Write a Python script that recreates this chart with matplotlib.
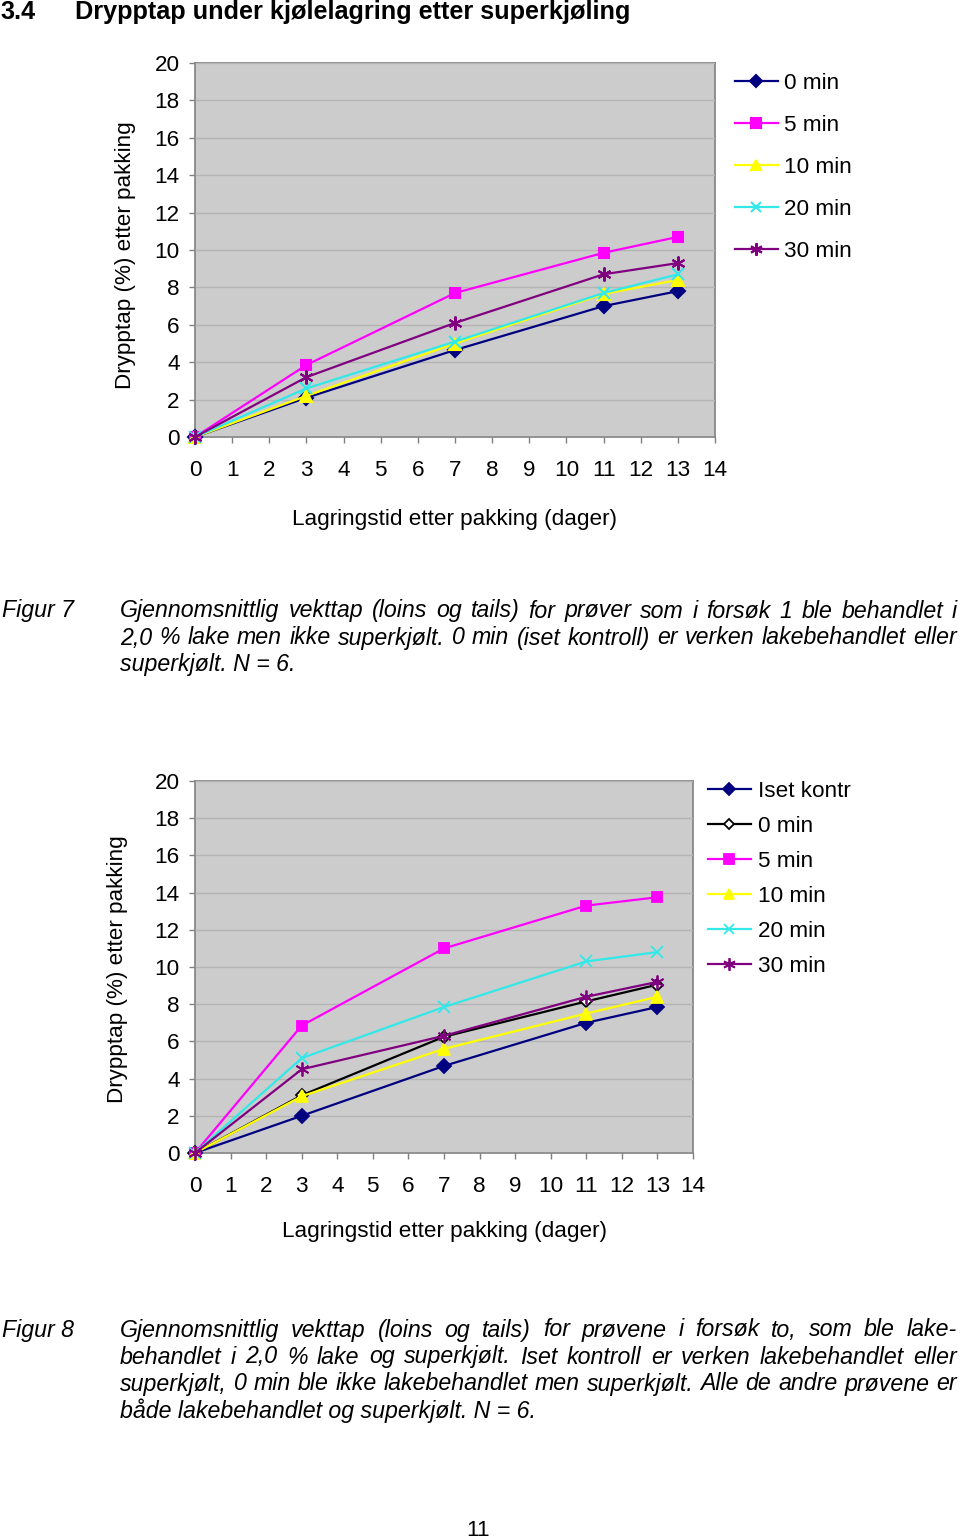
import matplotlib
matplotlib.use("Agg")
import matplotlib.pyplot as plt

plt.rcParams['font.family'] = ['Liberation Sans', 'DejaVu Sans']

W, H = 960, 1539

# ---------------- data ----------------
days = [0, 3, 7, 11, 13]
x_ticks = list(range(0, 15))
y_ticks = list(range(0, 21, 2))

fig7_labels = ["0 min", "5 min", "10 min", "20 min", "30 min"]
fig7_0min = [0, 2.1, 4.65, 7.0, 7.8]
fig7_5min = [0, 3.85, 7.7, 9.85, 10.7]
fig7_10min = [0, 2.2, 5.0, 7.65, 8.4]
fig7_20min = [0, 2.6, 5.1, 7.7, 8.7]
fig7_30min = [0, 3.2, 6.1, 8.7, 9.3]

fig8_labels = ["Iset kontr", "0 min", "5 min", "10 min", "20 min", "30 min"]
fig8_iset = [0, 2.0, 4.68, 7.0, 7.85]
fig8_0min = [0, 3.1, 6.25, 8.15, 9.05]
fig8_5min = [0, 6.85, 11.0, 13.3, 13.75]
fig8_10min = [0, 3.05, 5.6, 7.5, 8.4]
fig8_20min = [0, 5.1, 7.85, 10.3, 10.8]
fig8_30min = [0, 4.5, 6.3, 8.4, 9.2]

title_num = "3.4"
title_text = "Drypptap under kjølelagring etter superkjøling"
ylabel = "Drypptap (%) etter pakking"
xlabel = "Lagringstid etter pakking (dager)"

cap7_label = "Figur 7"
cap7_lines = [
    "Gjennomsnittlig vekttap (loins og tails) for prøver som i forsøk 1 ble behandlet i",
    "2,0 % lake men ikke superkjølt. 0 min (iset kontroll) er verken lakebehandlet eller",
    "superkjølt. N = 6.",
]
cap8_label = "Figur 8"
cap8_lines = [
    "Gjennomsnittlig vekttap (loins og tails) for prøvene i forsøk to, som ble lake-",
    "behandlet i 2,0 % lake og superkjølt. Iset kontroll er verken lakebehandlet eller",
    "superkjølt, 0 min ble ikke lakebehandlet men superkjølt. Alle de andre prøvene er",
    "både lakebehandlet og superkjølt. N = 6.",
]
page_no = "11"

# ---------------- styles ----------------
NAVY = '#000080'
MAG = '#FF00FF'
YEL = '#FFFF00'
CYAN = '#33E8E8'
PURP = '#800080'
ASTER = (6, 2, 0)

FS = 16.2

fig = plt.figure(figsize=(W / 100, H / 100), dpi=100)


def fx(x):
    return x / W


def fy(y):
    return 1 - y / H


def px_axes(l, t, r, b):
    return fig.add_axes([l / W, 1 - b / H, (r - l) / W, (b - t) / H])


def style_axes(ax):
    ax.set_facecolor('#CCCCCC')
    ax.set_xlim(0, 14)
    ax.set_ylim(0, 20)
    ax.set_xticks(x_ticks)
    ax.set_yticks(y_ticks)
    ax.set_axisbelow(True)
    ax.yaxis.grid(True, color='#B4B4B4', lw=1.0)
    for s in ax.spines.values():
        s.set_color('#808080')
        s.set_linewidth(1.2)
        s.set_zorder(0.5)
    ax.tick_params(axis='both', direction='out', length=4, width=1, color='#808080',
                   labelsize=FS)
    ax.tick_params(axis='x', pad=12.5)
    ax.tick_params(axis='y', pad=7)


# ---------------- chart 1 ----------------
ax1 = px_axes(195, 63, 715, 437)
style_axes(ax1)
lw = 1.6
series7 = [
    (fig7_0min, NAVY, 'D', 7, NAVY),
    (fig7_5min, MAG, 's', 7.5, MAG),
    (fig7_10min, YEL, '^', 8, YEL),
    (fig7_20min, CYAN, 'x', 8, CYAN),
    (fig7_30min, PURP, ASTER, 10, PURP),
]
for (vals, col, mk, ms, fc), lab in zip(series7, fig7_labels):
    ax1.plot(days, vals, color=col, lw=lw, marker=mk, ms=ms, mfc=fc, mec=col,
             mew=1.5, label=lab, clip_on=False, zorder=3)
ax1.legend(loc='upper left', bbox_to_anchor=(fx(735), fy(73)), bbox_transform=fig.transFigure,
           frameon=False, fontsize=FS, handlelength=1.9, handletextpad=0.3,
           labelspacing=0.93, borderpad=0, borderaxespad=0, markerscale=0.9)

fig.text(fx(125), fy(255), ylabel, rotation=90, ha='center', va='center', fontsize=FS)
fig.text(fx(455), fy(519), xlabel, ha='center', va='center', fontsize=FS)

# ---------------- chart 2 ----------------
ax2 = px_axes(195, 781, 693, 1153)
style_axes(ax2)
series8 = [
    (fig8_iset, NAVY, 'D', 7, NAVY),
    (fig8_0min, 'black', 'D', 6, 'white'),
    (fig8_5min, MAG, 's', 7.5, MAG),
    (fig8_10min, YEL, '^', 8, YEL),
    (fig8_20min, CYAN, 'x', 8, CYAN),
    (fig8_30min, PURP, ASTER, 10, PURP),
]
for (vals, col, mk, ms, fc), lab in zip(series8, fig8_labels):
    ax2.plot(days, vals, color=col, lw=lw, marker=mk, ms=ms, mfc=fc, mec=col,
             mew=1.3, label=lab, clip_on=False, zorder=3)
ax2.legend(loc='upper left', bbox_to_anchor=(fx(708), fy(781)), bbox_transform=fig.transFigure,
           frameon=False, fontsize=FS, handlelength=1.9, handletextpad=0.3,
           labelspacing=0.62, borderpad=0, borderaxespad=0, markerscale=0.9)

fig.text(fx(118), fy(969), ylabel, rotation=90, ha='center', va='center', fontsize=FS)
fig.text(fx(444), fy(1231), xlabel, ha='center', va='center', fontsize=FS)

# ---------------- titles / captions ----------------
TFS = 18.2
fig.text(fx(0), fy(12), title_num, ha='left', va='center', fontsize=TFS, fontweight='bold')
fig.text(fx(75), fy(12), title_text, ha='left', va='center', fontsize=TFS, fontweight='bold')

renderer = fig.canvas.get_renderer()
CFS = 16.7


def justified(line, x0, x1, y, justify=True):
    words = line.split(' ')
    if not justify:
        fig.text(fx(x0), fy(y), line, ha='left', va='center', fontsize=CFS, style='italic')
        return
    texts = [fig.text(0, 0, w, ha='left', va='center', fontsize=CFS, style='italic') for w in words]
    widths = [t.get_window_extent(renderer=renderer).width for t in texts]
    gap = (x1 - x0 - sum(widths)) / (len(words) - 1)
    x = x0
    for t, wdt in zip(texts, widths):
        t.set_position((fx(x), fy(y)))
        x += wdt + gap


def caption(label, lines, y0, step=27):
    fig.text(fx(2), fy(y0), label, ha='left', va='center', fontsize=CFS, style='italic')
    for i, ln in enumerate(lines):
        justified(ln, 120, 957, y0 + i * step, justify=(i < len(lines) - 1))


caption(cap7_label, cap7_lines, 611)
caption(cap8_label, cap8_lines, 1330)

fig.text(fx(478), fy(1530), page_no, ha='center', va='center', fontsize=FS)

fig.savefig('out.png', dpi=100)
